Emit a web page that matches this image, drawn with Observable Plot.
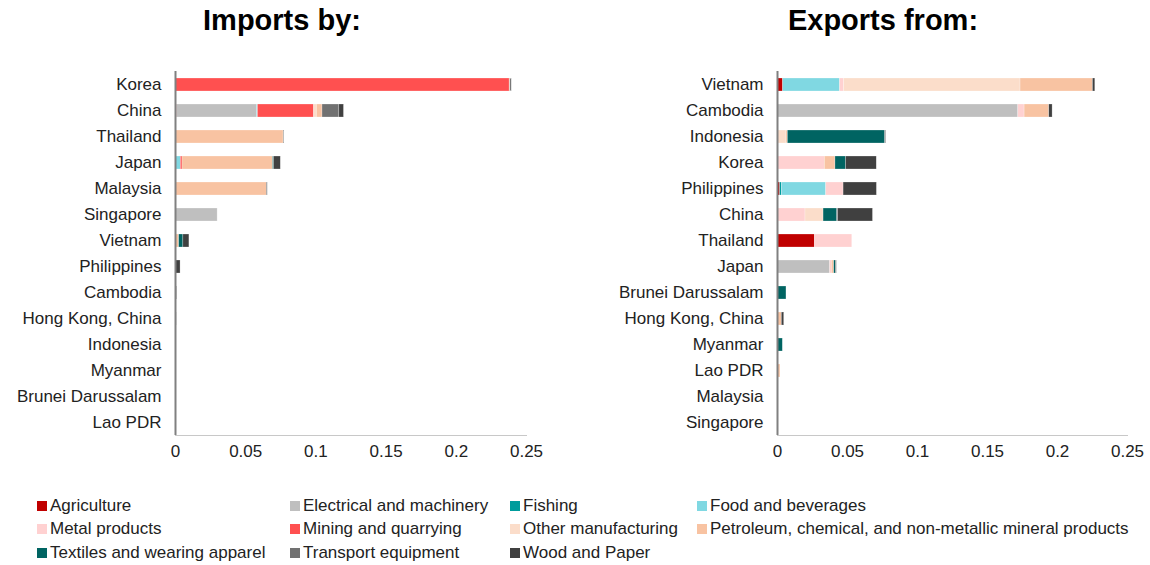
<!DOCTYPE html>
<html><head><meta charset="utf-8">
<script src="https://cdn.jsdelivr.net/npm/d3@7"></script>
<script src="https://cdn.jsdelivr.net/npm/@observablehq/plot@0.6"></script>
<style>
body{margin:0;background:#fff;font-family:"Liberation Sans",Arial,sans-serif;}
#wrap{position:relative;width:1150px;height:565px;overflow:hidden;}
.title{position:absolute;top:4px;font-size:29px;font-weight:bold;color:#000;transform:translateX(-50%);white-space:nowrap;}
#left{position:absolute;left:0;top:40px;}
#right{position:absolute;left:560px;top:40px;}
.leg{position:absolute;font-size:17px;color:#222;white-space:nowrap;line-height:19px;}
.leg i{display:inline-block;width:10px;height:10px;margin-right:3px;vertical-align:0px;}
</style></head>
<body><div id="wrap">
<div class="title" style="left:282px">Imports by:</div>
<div class="title" style="left:883px">Exports from:</div>
<div id="left"></div><div id="right"></div>
<div id="legend"></div>
</div>
<script>
const sectors = ["Agriculture","Electrical and machinery","Fishing","Food and beverages","Metal products","Mining and quarrying","Other manufacturing","Petroleum, chemical, and non-metallic mineral products","Textiles and wearing apparel","Transport equipment","Wood and Paper"];
const colors = ["#C00000","#BFBFBF","#009C9C","#80D8E2","#FFD1D1","#FF5050","#FBDDCA","#F8C3A2","#006462","#717171","#404040"];

const importCountries = ["Korea","China","Thailand","Japan","Malaysia","Singapore","Vietnam","Philippines","Cambodia","Hong Kong, China","Indonesia","Myanmar","Brunei Darussalam","Lao PDR"];
const impAgriculture = [0,0.001,0,0,0,0,0,0,0,0,0,0,0,0];
const impElectrical  = [0,0.057,0,0,0,0.030,0,0,0,0,0,0,0,0];
const impFishing     = [0,0,0,0,0,0,0,0,0,0,0,0,0,0];
const impFood        = [0,0.0007,0,0.0038,0,0,0,0,0,0,0,0,0,0];
const impMetal       = [0,0,0,0,0,0,0,0,0,0,0,0,0,0];
const impMining      = [0.238,0.040,0,0.0012,0,0,0,0,0,0,0,0,0,0];
const impOther       = [0,0.002,0,0,0,0,0,0,0,0,0,0,0,0];
const impPetroleum   = [0.0005,0.004,0.077,0.0645,0.065,0,0.0026,0,0,0,0,0,0,0];
const impTextiles    = [0,0,0,0.0007,0,0,0.003,0,0,0,0.0003,0,0,0];
const impTransport   = [0.001,0.012,0.0005,0,0.0007,0,0,0.0005,0,0,0,0,0,0];
const impWood        = [0,0.0033,0,0.0048,0,0,0.0043,0.0031,0.001,0.0008,0,0.0003,0,0];

const exportCountries = ["Vietnam","Cambodia","Indonesia","Korea","Philippines","China","Thailand","Japan","Brunei Darussalam","Hong Kong, China","Myanmar","Lao PDR","Malaysia","Singapore"];
const expAgriculture = [0.004,0,0,0,0.0019,0,0.0267,0,0,0,0,0,0,0];
const expElectrical  = [0,0.172,0,0,0,0,0,0.0376,0,0,0,0,0,0];
const expFishing     = [0,0,0,0,0.0012,0,0,0,0,0,0,0,0,0];
const expFood        = [0.0407,0,0,0,0.0317,0,0,0,0,0,0,0,0,0];
const expMetal       = [0.0029,0.0045,0,0.0338,0.0124,0.020,0.0267,0.0012,0,0,0,0,0,0];
const expMining      = [0,0,0,0,0,0,0,0,0,0,0,0,0,0];
const expOther       = [0.126,0,0.0064,0,0,0.0129,0,0,0,0,0,0,0,0];
const expPetroleum   = [0.0517,0.0176,0.001,0.0076,0,0,0,0.0017,0,0.0031,0,0.0021,0,0];
const expTextiles    = [0,0,0.0695,0.0076,0,0.0098,0,0.0012,0.0064,0,0.0038,0,0,0];
const expTransport   = [0,0,0.0007,0,0,0.0007,0,0.0007,0,0,0,0,0,0];
const expWood        = [0.0017,0.0024,0,0.0219,0.0238,0.0248,0,0,0,0.0017,0,0,0,0];

const xTicks = [0,0.05,0.1,0.15,0.2,0.25];

function build(countries, series){
  const rows = [];
  series.forEach((arr,si)=>arr.forEach((v,ci)=>rows.push({country:countries[ci],sector:sectors[si],value:v})));
  return rows;
}
const importData = build(importCountries,[impAgriculture,impElectrical,impFishing,impFood,impMetal,impMining,impOther,impPetroleum,impTextiles,impTransport,impWood]);
const exportData = build(exportCountries,[expAgriculture,expElectrical,expFishing,expFood,expMetal,expMining,expOther,expPetroleum,expTextiles,expTransport,expWood]);

function chart(data, countries, width, marginLeft, marginRight){
  return Plot.plot({
    width, height:425, marginLeft, marginRight, marginTop:31, marginBottom:30,
    style:{fontFamily:"'Liberation Sans', Arial, sans-serif", fontSize:"17px", color:"#222", background:"transparent"},
    x:{domain:[0,0.25], ticks:xTicks, tickFormat:d=>String(d), label:null},
    y:{domain:countries, paddingInner:0.5, paddingOuter:0.25, label:null},
    color:{domain:sectors, range:colors},
    marks:[
      Plot.barX(data,{x:"value", y:"country", fill:"sector", order:null, stroke:"white", strokeOpacity:0.5, strokeWidth:0.5}),
      Plot.frame({anchor:"bottom", stroke:"#c8c8c8"}),
      Plot.ruleX([0],{stroke:"#808080", strokeWidth:2}),
      Plot.axisY({tickSize:0, tickPadding:14, fontSize:17, textAnchor:"end"}),
      Plot.axisX({tickSize:0, tickPadding:9, fontSize:17, ticks:xTicks, tickFormat:d=>String(d)})
    ]
  });
}
document.getElementById("left").appendChild(chart(importData, importCountries, 560, 175, 34));
document.getElementById("right").appendChild(chart(exportData, exportCountries, 590, 217, 23));

const legendPos = [[37,496],[290,496],[510,496],[697,496],[37,519],[290,519],[510,519],[697,519],[37,543],[290,543],[510,543]];
const legend = document.getElementById("legend");
sectors.forEach((s,i)=>{
  const d = document.createElement("div");
  d.className="leg";
  d.style.left=legendPos[i][0]+"px"; d.style.top=legendPos[i][1]+"px";
  d.innerHTML = `<i style="background:${colors[i]}"></i>${s}`;
  legend.appendChild(d);
});
</script>
</body></html>
